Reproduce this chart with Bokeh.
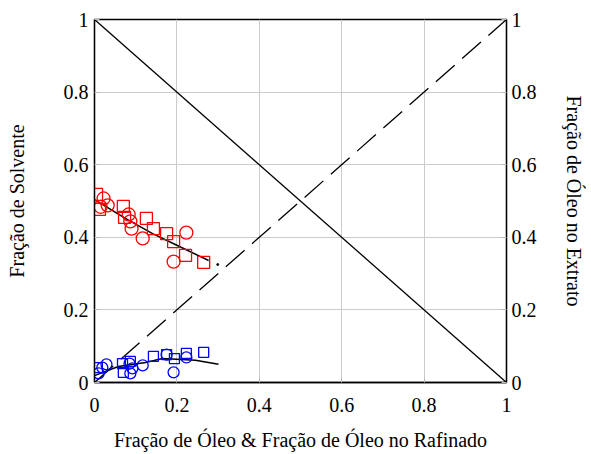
from bokeh.plotting import figure
from bokeh.models import Range1d, LinearAxis, FixedTicker, CustomJSTickFormatter
from bokeh.embed import file_html
from bokeh.resources import INLINE

# ---- data ----
ticks = [0, 0.2, 0.4, 0.6, 0.8, 1]

red_sq_x = [0.005, 0.012, 0.070, 0.073, 0.126, 0.143, 0.175, 0.192, 0.221, 0.265]
red_sq_y = [0.518, 0.477, 0.485, 0.455, 0.452, 0.424, 0.410, 0.388, 0.350, 0.331]

red_ci_x = [0.022, 0.015, 0.032, 0.083, 0.087, 0.090, 0.117, 0.223, 0.192]
red_ci_y = [0.507, 0.484, 0.488, 0.463, 0.444, 0.424, 0.397, 0.413, 0.333]

red_fit_x = [0.0, 0.075, 0.141, 0.2, 0.277]
red_fit_y = [0.504, 0.452, 0.410, 0.378, 0.336]
red_dot_x = [0.299]
red_dot_y = [0.325]

blue_sq_x = [0.007, 0.068, 0.070, 0.087, 0.143, 0.175, 0.194, 0.223, 0.265]
blue_sq_y = [0.041, 0.052, 0.028, 0.058, 0.072, 0.077, 0.066, 0.080, 0.083]

blue_ci_x = [0.010, 0.019, 0.029, 0.085, 0.092, 0.087, 0.117, 0.175, 0.223, 0.192]
blue_ci_y = [0.025, 0.041, 0.050, 0.052, 0.039, 0.025, 0.047, 0.077, 0.069, 0.028]

blue_fit_x = [0.0, 0.058, 0.124, 0.165, 0.245, 0.301]
blue_fit_y = [0.019, 0.044, 0.055, 0.066, 0.061, 0.050]

diag_x = [0, 1]
diag_down_y = [1, 0]
diag_up_y = [0, 1]

FONT = "Liberation Serif"

p = figure(width=591, height=454, output_backend="svg", toolbar_location=None,
           x_range=Range1d(0, 1), y_range=Range1d(0, 1),
           min_border_left=94, min_border_right=85, min_border_top=19, min_border_bottom=72)
p.background_fill_color = "white"
p.border_fill_color = "white"
p.outline_line_color = "black"
p.outline_line_width = 1.3

fmt_code = "return String(Math.round(tick * 10) / 10);"

def style_axis(ax, label, standoff, label_standoff):
    ax.ticker = FixedTicker(ticks=ticks)
    ax.formatter = CustomJSTickFormatter(code=fmt_code)
    ax.axis_label = label
    ax.axis_label_text_font = FONT
    ax.axis_label_text_font_style = "normal"
    ax.axis_label_text_font_size = "20px"
    ax.axis_label_text_line_height = 1.0
    ax.axis_label_text_color = "black"
    ax.major_label_text_font = FONT
    ax.major_label_text_font_style = "normal"
    ax.major_label_text_font_size = "20px"
    ax.major_label_text_line_height = 1.0
    ax.major_label_text_color = "black"
    ax.major_label_standoff = standoff
    ax.axis_label_standoff = label_standoff
    ax.axis_line_color = "black"
    ax.axis_line_width = 1.3
    ax.major_tick_in = 5
    ax.major_tick_out = 0
    ax.major_tick_line_color = "#bbbbbb"
    ax.minor_tick_line_color = None

style_axis(p.xaxis[0], "Fração de Óleo & Fração de Óleo no Rafinado", 15, 14)
style_axis(p.yaxis[0], "Fração de Solvente", 6, 33)
right = LinearAxis()
style_axis(right, "Fração de Óleo no Extrato", 5, 23)
p.add_layout(right, "right")

p.xgrid.ticker = FixedTicker(ticks=ticks)
p.ygrid.ticker = FixedTicker(ticks=ticks)
p.grid.grid_line_color = "#cccccc"
p.grid.grid_line_width = 1

p.line(diag_x, diag_down_y, line_color="black", line_width=1.3)
p.line(diag_x, diag_up_y, line_color="black", line_width=1.3, line_dash="25 10")

p.line(red_fit_x, red_fit_y, line_color="black", line_width=1.5)
p.scatter(red_dot_x, red_dot_y, marker="circle", size=2, color="black")
p.line(blue_fit_x, blue_fit_y, line_color="black", line_width=1.5)

p.scatter(red_sq_x, red_sq_y, marker="square", size=12, fill_color=None, line_color="#ff0000", line_width=1.3)
p.scatter(red_ci_x, red_ci_y, marker="circle", size=13, fill_color=None, line_color="#ff0000", line_width=1.3)
p.scatter(blue_sq_x, blue_sq_y, marker="square", size=10, fill_color=None, line_color="#0000ff", line_width=1.3)
p.scatter(blue_ci_x, blue_ci_y, marker="circle", size=11, fill_color=None, line_color="#0000ff", line_width=1.3)

open("out.html", "w").write(file_html(p, INLINE))
